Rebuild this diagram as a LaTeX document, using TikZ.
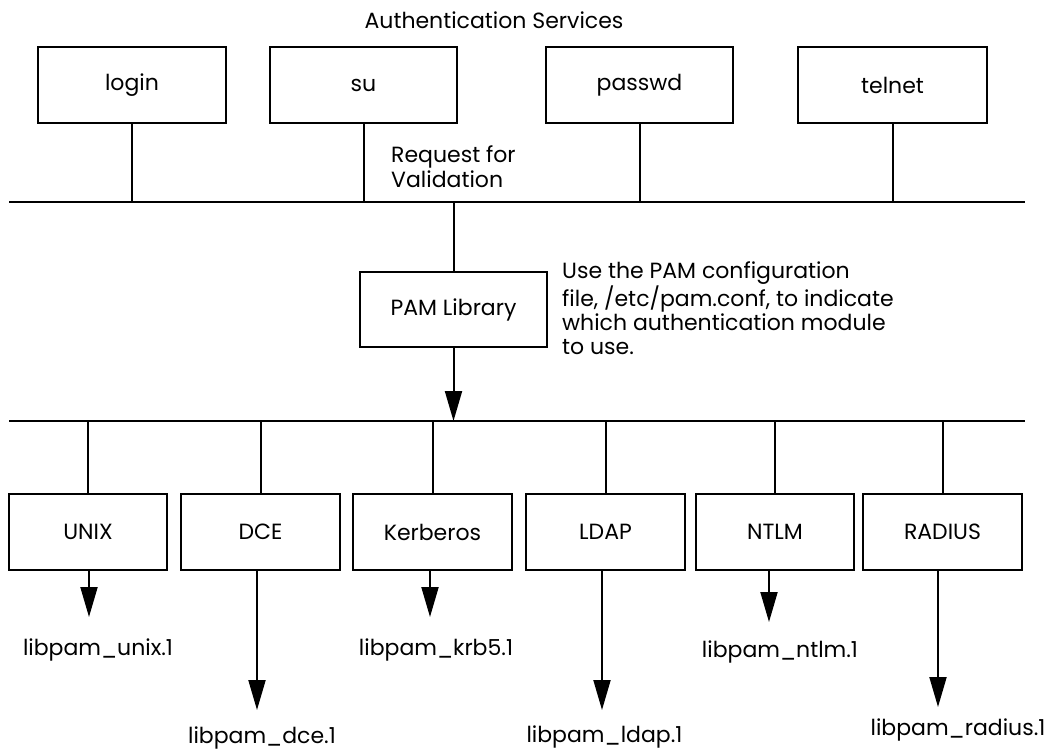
\documentclass[tikz,border=0pt]{standalone}
\usepackage{fontspec}
\setmainfont{Poppins}
\usetikzlibrary{arrows.meta}
\begin{document}
\begin{tikzpicture}[x=1pt,y=-1pt,
  every node/.style={font=\fontsize{22}{25}\selectfont},
  box/.style={draw,line width=2pt,minimum height=76pt,inner sep=0pt},
  line/.style={line width=2pt},
  arr/.style={line width=2pt,-{Triangle[length=30pt,width=17pt]}},
  lbl/.style={anchor=base,inner sep=0pt}]
\useasboundingbox (0,0) rectangle (1058,750);
% title
\node[lbl] (title) at (494,28) {Authentication Services};
% top boxes
\node[box,minimum width=188pt] (login) at (132,85) {login};
\node[box,minimum width=187pt] (su) at (363.5,85) {su};
\node[box,minimum width=187pt] (passwd) at (639.5,85) {passwd};
\node[box,minimum width=189pt] (telnet) at (892.5,85) {telnet};
% bus 1
\coordinate (b1L) at (9,202);
\coordinate (b1R) at (1025,202);
\draw[line] (b1L) -- (b1R);
\draw[line] (login.south) -- (login.south |- b1L);
\draw[line] (su.south) -- (su.south |- b1L);
\draw[line] (passwd.south) -- (passwd.south |- b1L);
\draw[line] (telnet.south) -- (telnet.south |- b1L);
\node[anchor=base west,inner sep=0pt,align=left] (req) at (391,187) {Request for\\Validation};
% PAM
\node[box,minimum width=187pt,minimum height=75pt] (pam) at (453.5,309.5) {PAM Library};
\draw[line] (pam.north |- b1L) -- (pam.north);
\node[anchor=base west,inner sep=0pt,align=left,font=\fontsize{22}{24}\selectfont] (note) at (562,354) {Use the PAM configuration\\file, /etc/pam.conf, to indicate\\which authentication module\\to use.};
% bus 2
\coordinate (b2L) at (9,421);
\coordinate (b2R) at (1025,421);
\draw[line] (b2L) -- (b2R);
\draw[arr] (pam.south) -- (pam.south |- b2L);
% bottom boxes
\node[box,minimum width=158pt] (unix) at (88,532) {UNIX};
\node[box,minimum width=159pt] (dce) at (260.5,532) {DCE};
\node[box,minimum width=159pt] (krb) at (432.5,532) {Kerberos};
\node[box,minimum width=159pt] (ldap) at (605.5,532) {LDAP};
\node[box,minimum width=158pt] (ntlm) at (775,532) {NTLM};
\node[box,minimum width=159pt] (radius) at (942.5,532) {RADIUS};
\foreach \b in {unix,dce,krb,ldap,ntlm,radius}
  \draw[line] (\b.north) -- (\b.north |- b2L);
% arrow tips
\coordinate (tunix) at (89,617);
\coordinate (tdce) at (257,710);
\coordinate (tkrb) at (430,617);
\coordinate (tldap) at (602,710);
\coordinate (tntlm) at (769,622);
\coordinate (tradius) at (938,707);
\foreach \b in {unix,dce,krb,ldap,ntlm,radius}
  \draw[arr] (\b.south -| t\b) -- (t\b);
% library labels
\node[lbl] (lunix) at (98,655) {libpam\_unix.1};
\node[lbl] (ldce) at (262,743) {libpam\_dce.1};
\node[lbl] (lkrb) at (436,655) {libpam\_krb5.1};
\node[lbl] (lldap) at (604.5,742) {libpam\_ldap.1};
\node[lbl] (lntlm) at (780,657) {libpam\_ntlm.1};
\node[lbl] (lradius) at (958,735) {libpam\_radius.1};
\end{tikzpicture}
\end{document}
